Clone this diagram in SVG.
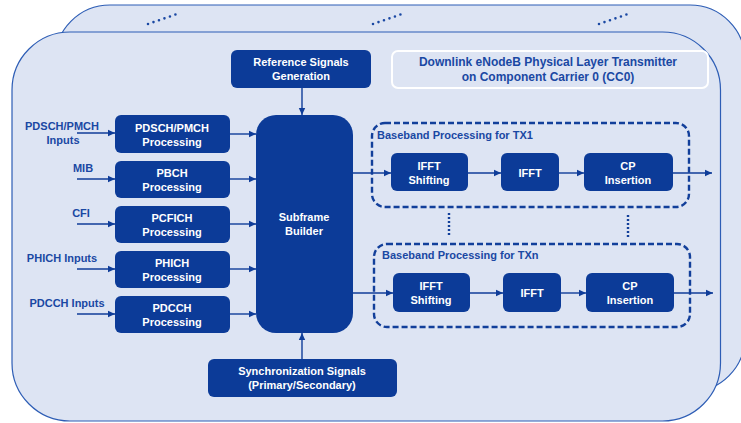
<svg xmlns="http://www.w3.org/2000/svg" width="741" height="423" viewBox="0 0 741 423">
<defs>
<marker id="ah" markerWidth="8" markerHeight="8" refX="7" refY="4" orient="auto" markerUnits="userSpaceOnUse">
<path d="M0,0.8 L7,4 L0,7.2 Z" fill="#0f3d99"/>
</marker>
<style>
.card{fill:#dde4f3;stroke:#2d5db5;stroke-width:1.2}
.box{fill:#0c3b98}
.bt{font-family:"Liberation Sans",Arial,sans-serif;font-weight:bold;font-size:11px;fill:#ffffff;text-anchor:middle}
.lbl{font-family:"Liberation Sans",Arial,sans-serif;font-weight:bold;font-size:11px;fill:#1a48a3;text-anchor:middle}
.grp{font-family:"Liberation Sans",Arial,sans-serif;font-weight:bold;font-size:11px;fill:#1a48a3}
.ttl{font-family:"Liberation Sans",Arial,sans-serif;font-weight:bold;font-size:12px;fill:#1a48a3;text-anchor:middle}
.ln{stroke:#0f3d99;stroke-width:1.4;fill:none;marker-end:url(#ah)}
.dash{fill:none;stroke:#123f9a;stroke-width:2.4;stroke-dasharray:6 3}
.dot{fill:none;stroke:#123f9a;stroke-width:2.4;stroke-dasharray:2 2}
.dots{fill:none;stroke:#1a48a3;stroke-width:2.6;stroke-linecap:round;stroke-dasharray:0 5.8}
</style>
</defs>
<rect width="741" height="423" fill="#ffffff"/>
<g id="back-card">
<rect class="card" x="55" y="5" width="690" height="387" rx="55"/>
<line class="dots" x1="148" y1="24" x2="180" y2="13"/>
<line class="dots" x1="373" y1="24" x2="405" y2="13"/>
<line class="dots" x1="599" y1="24" x2="631" y2="13"/>
</g>
<g id="front-card">
<rect class="card" x="12" y="32" width="708.5" height="389" rx="58"/>
</g>
<g id="title">
<rect x="392" y="51" width="316" height="37" rx="6" fill="none" stroke="#ffffff" stroke-width="2"/>
<text class="ttl" x="548" y="66">Downlink eNodeB Physical Layer Transmitter</text>
<text class="ttl" x="548" y="81">on Component Carrier 0 (CC0)</text>
</g>
<g id="tx1-group">
<rect class="dash" x="372" y="123" width="317" height="84" rx="13"/>
<text class="grp" x="377" y="139">Baseband Processing  for  TX1</text>
</g>
<g id="txn-group">
<rect class="dash" x="374" y="244" width="316" height="83" rx="13"/>
<text class="grp" x="382" y="259">Baseband Processing  for  TXn</text>
</g>
<g id="ellipsis">
<line class="dot" x1="449" y1="213" x2="449" y2="236"/>
<line class="dot" x1="628" y1="215" x2="628" y2="238"/>
</g>
<g id="connectors">
<line class="ln" x1="302" y1="88" x2="302" y2="115"/>
<line class="ln" x1="302" y1="359" x2="302" y2="333"/>
<line class="ln" x1="77" y1="133" x2="115" y2="133"/>
<line class="ln" x1="77" y1="179" x2="115" y2="179"/>
<line class="ln" x1="77" y1="224" x2="115" y2="224"/>
<line class="ln" x1="77" y1="269" x2="115" y2="269"/>
<line class="ln" x1="77" y1="314" x2="115" y2="314"/>
<line class="ln" x1="230" y1="134" x2="256" y2="134"/>
<line class="ln" x1="230" y1="179" x2="256" y2="179"/>
<line class="ln" x1="230" y1="224" x2="256" y2="224"/>
<line class="ln" x1="230" y1="269" x2="256" y2="269"/>
<line class="ln" x1="230" y1="314" x2="256" y2="314"/>
<line class="ln" x1="353" y1="173" x2="391" y2="173"/>
<line class="ln" x1="468" y1="173" x2="501" y2="173"/>
<line class="ln" x1="559" y1="173" x2="584" y2="173"/>
<line class="ln" x1="673" y1="173" x2="712" y2="173"/>
<line class="ln" x1="353" y1="293" x2="393" y2="293"/>
<line class="ln" x1="470" y1="293" x2="503" y2="293"/>
<line class="ln" x1="561" y1="293" x2="586" y2="293"/>
<line class="ln" x1="674" y1="293" x2="713" y2="293"/>
</g>
<g id="input-labels">
<text class="lbl" x="62" y="130">PDSCH/PMCH</text>
<text class="lbl" x="63" y="144">Inputs</text>
<text class="lbl" x="83" y="172">MIB</text>
<text class="lbl" x="81" y="217">CFI</text>
<text class="lbl" x="62" y="262">PHICH Inputs</text>
<text class="lbl" x="67" y="307">PDCCH Inputs</text>
</g>
<g id="ref-signals">
<rect class="box" x="231" y="50" width="140" height="38" rx="6"/>
<text class="bt" x="301" y="66">Reference Signals</text>
<text class="bt" x="301" y="80">Generation</text>
</g>
<g id="pdsch">
<rect class="box" x="115" y="115" width="115" height="38" rx="6"/>
<text class="bt" x="172" y="132">PDSCH/PMCH</text>
<text class="bt" x="172" y="146">Processing</text>
</g>
<g id="pbch">
<rect class="box" x="115" y="161" width="115" height="37" rx="6"/>
<text class="bt" x="172" y="177">PBCH</text>
<text class="bt" x="172" y="191">Processing</text>
</g>
<g id="pcfich">
<rect class="box" x="115" y="206" width="115" height="37" rx="6"/>
<text class="bt" x="172" y="222">PCFICH</text>
<text class="bt" x="172" y="236">Processing</text>
</g>
<g id="phich">
<rect class="box" x="115" y="251" width="115" height="37" rx="6"/>
<text class="bt" x="172" y="267">PHICH</text>
<text class="bt" x="172" y="281">Processing</text>
</g>
<g id="pdcch">
<rect class="box" x="115" y="296" width="115" height="37" rx="6"/>
<text class="bt" x="172" y="312">PDCCH</text>
<text class="bt" x="172" y="326">Processing</text>
</g>
<g id="subframe-builder">
<rect class="box" x="256" y="115" width="97" height="218" rx="20"/>
<text class="bt" x="304" y="221">Subframe</text>
<text class="bt" x="304" y="235">Builder</text>
</g>
<g id="sync-signals">
<rect class="box" x="208" y="359" width="189" height="38" rx="6"/>
<text class="bt" x="302" y="375">Synchronization Signals</text>
<text class="bt" x="302" y="389">(Primary/Secondary)</text>
</g>
<g id="tx1-ifft-shift">
<rect class="box" x="391" y="153" width="77" height="38" rx="6"/>
<text class="bt" x="429" y="170">IFFT</text>
<text class="bt" x="429" y="184">Shifting</text>
</g>
<g id="tx1-ifft">
<rect class="box" x="501" y="153" width="58" height="38" rx="6"/>
<text class="bt" x="530" y="177">IFFT</text>
</g>
<g id="tx1-cp">
<rect class="box" x="584" y="153" width="89" height="38" rx="6"/>
<text class="bt" x="628" y="170">CP</text>
<text class="bt" x="628" y="184">Insertion</text>
</g>
<g id="txn-ifft-shift">
<rect class="box" x="393" y="273" width="77" height="39" rx="6"/>
<text class="bt" x="431" y="290">IFFT</text>
<text class="bt" x="431" y="304">Shifting</text>
</g>
<g id="txn-ifft">
<rect class="box" x="503" y="273" width="58" height="39" rx="6"/>
<text class="bt" x="532" y="297">IFFT</text>
</g>
<g id="txn-cp">
<rect class="box" x="586" y="273" width="88" height="39" rx="6"/>
<text class="bt" x="630" y="290">CP</text>
<text class="bt" x="630" y="304">Insertion</text>
</g>
</svg>
